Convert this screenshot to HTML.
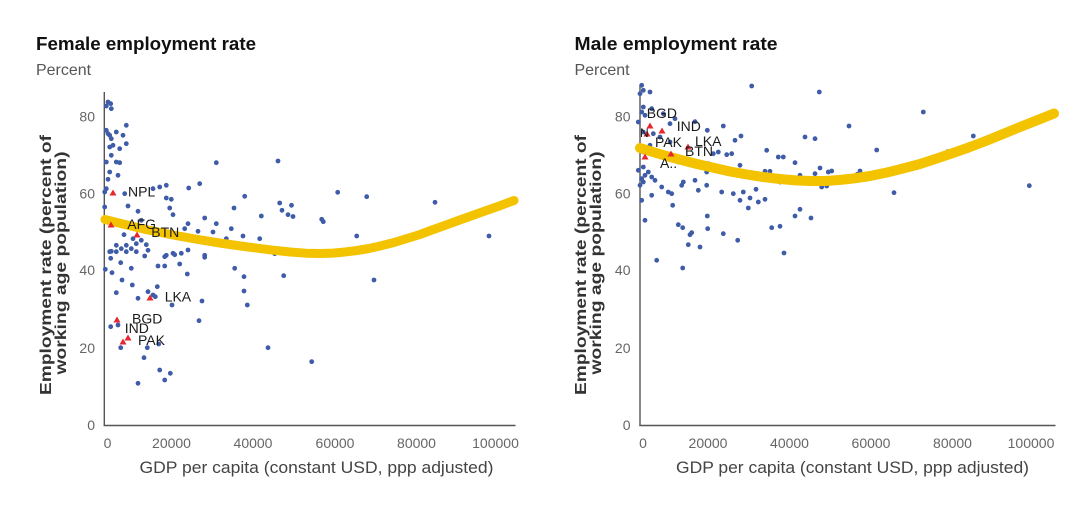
<!DOCTYPE html>
<html>
<head>
<meta charset="utf-8">
<style>
  html, body { margin:0; padding:0; background:#ffffff; }
  svg { display:block; }
  text { font-family: "Liberation Sans", "DejaVu Sans", sans-serif; }
</style>
</head>
<body>
<svg width="1080" height="526" viewBox="0 0 1080 526" xmlns="http://www.w3.org/2000/svg">
  <rect x="0" y="0" width="1080" height="526" fill="#ffffff"/>

  <!-- ================= LEFT CHART ================= -->
  <text x="36" y="50" font-size="18" font-weight="bold" fill="#111" textLength="220" lengthAdjust="spacingAndGlyphs">Female employment rate</text>
  <text x="36" y="75" font-size="16" fill="#555" textLength="55" lengthAdjust="spacingAndGlyphs">Percent</text>

  <!-- y axis title -->
  <text transform="translate(51,265) rotate(-90)" text-anchor="middle" font-size="16" font-weight="bold" fill="#333" textLength="260" lengthAdjust="spacingAndGlyphs">Employment rate (percent of</text>
  <text transform="translate(66,263) rotate(-90)" text-anchor="middle" font-size="16" font-weight="bold" fill="#333" textLength="223" lengthAdjust="spacingAndGlyphs">working age population)</text>

  <!-- y ticks -->
  <g font-size="14" fill="#666" text-anchor="end">
    <text x="95" y="121.7">80</text>
    <text x="95" y="198.3">60</text>
    <text x="95" y="275">40</text>
    <text x="95" y="353">20</text>
    <text x="95" y="430">0</text>
  </g>
  <!-- x ticks -->
  <g font-size="14" fill="#666" text-anchor="middle">
    <text x="107.5" y="448">0</text>
    <text x="171.5" y="448">20000</text>
    <text x="253" y="448">40000</text>
    <text x="335" y="448">60000</text>
    <text x="416.5" y="448">80000</text>
    <text x="495.5" y="448">100000</text>
  </g>
  <text x="139.5" y="473" font-size="17" fill="#444" textLength="354" lengthAdjust="spacingAndGlyphs">GDP per capita (constant USD, ppp adjusted)</text>

  <!-- axes -->
  <line x1="104.3" y1="92" x2="104.3" y2="425.5" stroke="#555" stroke-width="1.4"/>
  <line x1="103.6" y1="425.5" x2="515.5" y2="425.5" stroke="#555" stroke-width="1.4"/>

  <!-- dots -->
  <g fill="#3f5ca8">
    <circle cx="108" cy="102" r="2.4"/><circle cx="110.7" cy="103.7" r="2.4"/><circle cx="106.3" cy="106" r="2.4"/><circle cx="111.3" cy="108.7" r="2.4"/><circle cx="126.3" cy="125.3" r="2.4"/>
    <circle cx="106.3" cy="130.3" r="2.4"/><circle cx="108" cy="133.7" r="2.4"/><circle cx="109.7" cy="135.3" r="2.4"/><circle cx="116.3" cy="132" r="2.4"/><circle cx="111.3" cy="138.7" r="2.4"/><circle cx="123" cy="135.3" r="2.4"/><circle cx="113" cy="145.3" r="2.4"/><circle cx="126.3" cy="143.7" r="2.4"/><circle cx="119.7" cy="148.7" r="2.4"/><circle cx="109.7" cy="147" r="2.4"/>
    <circle cx="111.3" cy="155.3" r="2.4"/><circle cx="106.3" cy="162" r="2.4"/><circle cx="116.3" cy="162" r="2.4"/><circle cx="119.7" cy="162.7" r="2.4"/><circle cx="216.3" cy="162.7" r="2.4"/><circle cx="278" cy="161" r="2.4"/>
    <circle cx="118" cy="175.3" r="2.4"/><circle cx="109.7" cy="172" r="2.4"/><circle cx="108" cy="179.3" r="2.4"/><circle cx="106.3" cy="188.7" r="2.4"/>
    <circle cx="199.7" cy="183.7" r="2.4"/><circle cx="188.7" cy="188" r="2.4"/><circle cx="159.7" cy="187" r="2.4"/><circle cx="166.3" cy="185.3" r="2.4"/><circle cx="153" cy="188.7" r="2.4"/>
    <circle cx="124.7" cy="193.7" r="2.4"/><circle cx="104.7" cy="192" r="2.4"/><circle cx="244.7" cy="196.3" r="2.4"/>
    <circle cx="166.3" cy="198" r="2.4"/><circle cx="171.3" cy="199.3" r="2.4"/><circle cx="128" cy="206" r="2.4"/><circle cx="104.7" cy="207" r="2.4"/><circle cx="169.7" cy="208" r="2.4"/>
    <circle cx="279.7" cy="203" r="2.4"/><circle cx="291.5" cy="205.3" r="2.4"/><circle cx="282" cy="210.3" r="2.4"/><circle cx="288" cy="214.7" r="2.4"/><circle cx="293" cy="216.5" r="2.4"/>
    <circle cx="234" cy="208" r="2.4"/><circle cx="138" cy="211.3" r="2.4"/><circle cx="173" cy="214.7" r="2.4"/><circle cx="204.7" cy="218" r="2.4"/><circle cx="261.3" cy="216" r="2.4"/>
    <circle cx="188" cy="223.7" r="2.4"/><circle cx="141.3" cy="220.3" r="2.4"/><circle cx="216.3" cy="223.7" r="2.4"/><circle cx="231.3" cy="228.7" r="2.4"/><circle cx="213" cy="232" r="2.4"/><circle cx="198" cy="231.3" r="2.4"/><circle cx="184.7" cy="228.7" r="2.4"/><circle cx="243" cy="236" r="2.4"/><circle cx="259.7" cy="238.7" r="2.4"/><circle cx="226.3" cy="238.7" r="2.4"/><circle cx="204.7" cy="238.7" r="2.4"/><circle cx="213" cy="242" r="2.4"/><circle cx="223" cy="243.7" r="2.4"/><circle cx="194.7" cy="240.3" r="2.4"/>
    <circle cx="124" cy="234.7" r="2.4"/><circle cx="133" cy="238.7" r="2.4"/><circle cx="141.3" cy="240.3" r="2.4"/><circle cx="146.3" cy="244.7" r="2.4"/><circle cx="136.3" cy="243.7" r="2.4"/><circle cx="126.3" cy="245.3" r="2.4"/><circle cx="116.3" cy="245.3" r="2.4"/><circle cx="121.3" cy="248.7" r="2.4"/><circle cx="111.3" cy="251.3" r="2.4"/><circle cx="131.3" cy="248.7" r="2.4"/><circle cx="148" cy="250.3" r="2.4"/><circle cx="166.3" cy="255.3" r="2.4"/><circle cx="174.7" cy="254.7" r="2.4"/><circle cx="258" cy="247" r="2.4"/><circle cx="204.7" cy="255.3" r="2.4"/><circle cx="274.7" cy="253.7" r="2.4"/>
    <circle cx="109.7" cy="251.7" r="2.4"/><circle cx="116.3" cy="251.7" r="2.4"/><circle cx="126.3" cy="251.7" r="2.4"/><circle cx="136.3" cy="251.7" r="2.4"/><circle cx="144.7" cy="256" r="2.4"/><circle cx="164.7" cy="256.7" r="2.4"/><circle cx="173" cy="253.3" r="2.4"/><circle cx="181.3" cy="253.3" r="2.4"/><circle cx="188" cy="250" r="2.4"/>
    <circle cx="204.7" cy="257.3" r="2.4"/><circle cx="110.7" cy="258.3" r="2.4"/><circle cx="120.7" cy="262.7" r="2.4"/><circle cx="131.3" cy="268.3" r="2.4"/><circle cx="158" cy="266" r="2.4"/><circle cx="164.7" cy="266" r="2.4"/><circle cx="179.7" cy="264" r="2.4"/>
    <circle cx="105.3" cy="269.3" r="2.4"/><circle cx="112" cy="272.7" r="2.4"/><circle cx="122" cy="280" r="2.4"/><circle cx="187.3" cy="274" r="2.4"/><circle cx="234.7" cy="268.3" r="2.4"/><circle cx="244" cy="276.7" r="2.4"/><circle cx="283.7" cy="275.7" r="2.4"/>
    <circle cx="132.3" cy="285" r="2.4"/><circle cx="157.3" cy="286.7" r="2.4"/><circle cx="116.3" cy="292.7" r="2.4"/><circle cx="148" cy="291.7" r="2.4"/><circle cx="153" cy="295" r="2.4"/><circle cx="138" cy="298.3" r="2.4"/><circle cx="155.3" cy="296.7" r="2.4"/>
    <circle cx="244" cy="291" r="2.4"/><circle cx="202" cy="301" r="2.4"/><circle cx="172" cy="305" r="2.4"/><circle cx="247.3" cy="305" r="2.4"/>
    <circle cx="110.7" cy="326.7" r="2.4"/><circle cx="118" cy="325" r="2.4"/><circle cx="199" cy="320.7" r="2.4"/>
    <circle cx="120.7" cy="347.7" r="2.4"/><circle cx="147.3" cy="347.7" r="2.4"/><circle cx="158.7" cy="344" r="2.4"/><circle cx="268" cy="347.7" r="2.4"/>
    <circle cx="144" cy="357.7" r="2.4"/><circle cx="159.7" cy="370" r="2.4"/><circle cx="170.3" cy="373.3" r="2.4"/><circle cx="164.7" cy="380" r="2.4"/><circle cx="138" cy="383.3" r="2.4"/>
    <circle cx="337.7" cy="192.3" r="2.4"/><circle cx="366.7" cy="196.7" r="2.4"/><circle cx="435" cy="202.3" r="2.4"/><circle cx="321.7" cy="219.3" r="2.4"/><circle cx="323.3" cy="221.7" r="2.4"/><circle cx="356.7" cy="236" r="2.4"/><circle cx="489" cy="236" r="2.4"/><circle cx="374" cy="280" r="2.4"/><circle cx="383.3" cy="243.5" r="2.4"/><circle cx="311.7" cy="361.7" r="2.4"/>
  </g>

  <!-- fit curve -->
  <polyline fill="none" stroke="#F3C300" stroke-width="9" stroke-linecap="round" stroke-linejoin="round"
    points="105,219.5 127,225 148,230 173,235 198,239.5 223,243.5 248,247 270,249.8 290,252 306,253.2 320,253.5 333,253.1 345,252 357,250.5 369,248.5 380,246 394,242.5 407,238.5 420,234.5 432,230 445,225.4 457,221 471,216 485,211 500,205.7 514,200.5"/>

  <!-- highlighted triangles -->
  <g fill="#e8262f">
    <path d="M109.5,195.5 L116.5,195.5 L113,189.5 Z"/>
    <path d="M107.5,227.5 L114.5,227.5 L111,221.5 Z"/>
    <path d="M133.5,237.5 L140.5,237.5 L137,231.5 Z"/>
    <path d="M146.5,300.5 L153.5,300.5 L150,294.5 Z"/>
    <path d="M113.5,322.5 L120.5,322.5 L117,316.5 Z"/>
    <path d="M124.5,340.5 L131.5,340.5 L128,334.5 Z"/>
    <path d="M119.5,344.5 L126.5,344.5 L123,338.5 Z"/>
  </g>
  <g font-size="14" fill="#1a1a1a">
    <text x="128" y="196.7">NPL</text>
    <text x="127.3" y="229">AFG</text>
    <text x="151.3" y="237">BTN</text>
    <text x="164.7" y="301.7">LKA</text>
    <text x="132" y="323.3">BGD</text>
    <text x="124.7" y="333">IND</text>
    <text x="138" y="345">PAK</text>
  </g>

  <!-- ================= RIGHT CHART ================= -->
  <text x="574.5" y="50" font-size="18" font-weight="bold" fill="#111" textLength="203" lengthAdjust="spacingAndGlyphs">Male employment rate</text>
  <text x="574.5" y="75" font-size="16" fill="#555" textLength="55" lengthAdjust="spacingAndGlyphs">Percent</text>

  <text transform="translate(586,265) rotate(-90)" text-anchor="middle" font-size="16" font-weight="bold" fill="#333" textLength="260" lengthAdjust="spacingAndGlyphs">Employment rate (percent of</text>
  <text transform="translate(601,263) rotate(-90)" text-anchor="middle" font-size="16" font-weight="bold" fill="#333" textLength="223" lengthAdjust="spacingAndGlyphs">working age population)</text>

  <g font-size="14" fill="#666" text-anchor="end">
    <text x="630.5" y="121.7">80</text>
    <text x="630.5" y="198.3">60</text>
    <text x="630.5" y="275">40</text>
    <text x="630.5" y="353">20</text>
    <text x="630.5" y="430">0</text>
  </g>
  <g font-size="14" fill="#666" text-anchor="middle">
    <text x="643" y="448">0</text>
    <text x="708" y="448">20000</text>
    <text x="789.5" y="448">40000</text>
    <text x="871" y="448">60000</text>
    <text x="952.5" y="448">80000</text>
    <text x="1031" y="448">100000</text>
  </g>
  <text x="676" y="473" font-size="17" fill="#444" textLength="353" lengthAdjust="spacingAndGlyphs">GDP per capita (constant USD, ppp adjusted)</text>

  <line x1="640" y1="85" x2="640" y2="425.5" stroke="#555" stroke-width="1.4"/>
  <line x1="639.3" y1="425.5" x2="1055.5" y2="425.5" stroke="#555" stroke-width="1.4"/>

  <g fill="#3f5ca8">
    <circle cx="641.7" cy="85.3" r="2.4"/><circle cx="643.3" cy="90.3" r="2.4"/><circle cx="640" cy="93.7" r="2.4"/><circle cx="650" cy="92" r="2.4"/><circle cx="751.7" cy="86" r="2.4"/><circle cx="819.3" cy="92" r="2.4"/>
    <circle cx="643.3" cy="107" r="2.4"/><circle cx="641.7" cy="112" r="2.4"/><circle cx="645" cy="115.3" r="2.4"/><circle cx="638.3" cy="122" r="2.4"/><circle cx="651.7" cy="108.7" r="2.4"/>
    <circle cx="663.3" cy="113.7" r="2.4"/><circle cx="670" cy="123.7" r="2.4"/><circle cx="675" cy="118.7" r="2.4"/><circle cx="723.3" cy="126" r="2.4"/><circle cx="707.3" cy="130.3" r="2.4"/><circle cx="695" cy="121.7" r="2.4"/>
    <circle cx="643.3" cy="132" r="2.4"/><circle cx="653.3" cy="133.7" r="2.4"/><circle cx="660" cy="137" r="2.4"/>
    <circle cx="735" cy="140.3" r="2.4"/><circle cx="741" cy="136" r="2.4"/><circle cx="805" cy="137" r="2.4"/><circle cx="815" cy="138.7" r="2.4"/>
    <circle cx="650" cy="145.3" r="2.4"/><circle cx="643.3" cy="152" r="2.4"/><circle cx="670" cy="142" r="2.4"/>
    <circle cx="766.7" cy="150.3" r="2.4"/><circle cx="718.3" cy="152" r="2.4"/><circle cx="713.3" cy="153.7" r="2.4"/><circle cx="726.7" cy="154.7" r="2.4"/><circle cx="731.7" cy="153.7" r="2.4"/>
    <circle cx="778.3" cy="157" r="2.4"/><circle cx="783.3" cy="157" r="2.4"/><circle cx="795" cy="162.7" r="2.4"/><circle cx="740" cy="165.3" r="2.4"/><circle cx="708.3" cy="163.7" r="2.4"/><circle cx="678.3" cy="162" r="2.4"/><circle cx="820" cy="168" r="2.4"/>
    <circle cx="643.3" cy="167" r="2.4"/><circle cx="638.3" cy="170.3" r="2.4"/><circle cx="648.3" cy="172" r="2.4"/><circle cx="645" cy="175.3" r="2.4"/><circle cx="651.7" cy="177" r="2.4"/><circle cx="655" cy="180.3" r="2.4"/><circle cx="641.7" cy="178.7" r="2.4"/>
    <circle cx="706.7" cy="172" r="2.4"/><circle cx="751.7" cy="172.7" r="2.4"/><circle cx="765" cy="171.3" r="2.4"/><circle cx="770" cy="171.3" r="2.4"/><circle cx="800" cy="175.3" r="2.4"/><circle cx="815" cy="173.7" r="2.4"/><circle cx="828.3" cy="172" r="2.4"/>
    <circle cx="640" cy="185.3" r="2.4"/><circle cx="643.3" cy="182" r="2.4"/><circle cx="661.7" cy="187" r="2.4"/><circle cx="683.3" cy="182" r="2.4"/><circle cx="681.7" cy="185.3" r="2.4"/><circle cx="695" cy="180.3" r="2.4"/><circle cx="706.7" cy="185.3" r="2.4"/><circle cx="698.3" cy="190.3" r="2.4"/><circle cx="780" cy="182" r="2.4"/>
    <circle cx="821.7" cy="187" r="2.4"/><circle cx="826.7" cy="186" r="2.4"/>
    <circle cx="668.3" cy="192" r="2.4"/><circle cx="671.7" cy="193.7" r="2.4"/><circle cx="651.7" cy="195.3" r="2.4"/><circle cx="721.7" cy="192" r="2.4"/><circle cx="733.3" cy="193.7" r="2.4"/><circle cx="743.3" cy="192" r="2.4"/><circle cx="756" cy="189.3" r="2.4"/>
    <circle cx="641.7" cy="200.3" r="2.4"/><circle cx="740" cy="200.3" r="2.4"/><circle cx="750" cy="198" r="2.4"/><circle cx="758.3" cy="202" r="2.4"/><circle cx="765" cy="199.3" r="2.4"/><circle cx="748.3" cy="208" r="2.4"/><circle cx="672.7" cy="205.3" r="2.4"/>
    <circle cx="645" cy="220.3" r="2.4"/><circle cx="707.3" cy="216" r="2.4"/><circle cx="800" cy="209.3" r="2.4"/><circle cx="795" cy="216" r="2.4"/><circle cx="811" cy="218" r="2.4"/>
    <circle cx="678.3" cy="224.7" r="2.4"/><circle cx="682.7" cy="227.7" r="2.4"/><circle cx="707.7" cy="228.7" r="2.4"/><circle cx="691.7" cy="232.7" r="2.4"/><circle cx="690" cy="234.7" r="2.4"/><circle cx="771.7" cy="227.7" r="2.4"/><circle cx="780" cy="226.3" r="2.4"/>
    <circle cx="723.3" cy="233.7" r="2.4"/><circle cx="737.7" cy="240.3" r="2.4"/><circle cx="688.3" cy="244.7" r="2.4"/><circle cx="700" cy="247" r="2.4"/><circle cx="784" cy="253" r="2.4"/><circle cx="656.7" cy="260.3" r="2.4"/><circle cx="682.7" cy="268" r="2.4"/>
    <circle cx="923.3" cy="112" r="2.4"/><circle cx="849" cy="126" r="2.4"/><circle cx="973.3" cy="136" r="2.4"/><circle cx="876.7" cy="150" r="2.4"/><circle cx="947.7" cy="151.7" r="2.4"/><circle cx="831.7" cy="171" r="2.4"/><circle cx="860" cy="171" r="2.4"/><circle cx="857.3" cy="174.3" r="2.4"/><circle cx="894" cy="192.7" r="2.4"/><circle cx="1029.3" cy="185.7" r="2.4"/>
  </g>

  <polyline fill="none" stroke="#F3C300" stroke-width="10" stroke-linecap="round" stroke-linejoin="round"
    points="640,148 655,152.6 670,157 684,160.7 697,164 714,167.9 730,171.5 747,174.5 763,177 780,179 797,180.5 811,181 825,181 839,180 853,178.5 870,176 887,172.5 903,168.5 920,164 936,158.8 953,153 970,147 987,140.5 1003,134 1020,127 1037,120.3 1054,113.5"/>

  <g fill="#e8262f">
    <path d="M646.5,128.5 L653.5,128.5 L650,122.5 Z"/>
    <path d="M658.5,133.5 L665.5,133.5 L662,127.5 Z"/>
    <path d="M684.5,149.5 L691.5,149.5 L688,143.5 Z"/>
    <path d="M667.5,156.5 L674.5,156.5 L671,150.5 Z"/>
    <path d="M641.5,159.5 L648.5,159.5 L645,153.5 Z"/>
    <path d="M643.5,136.5 L650.5,136.5 L647,130.5 Z"/>
  </g>
  <g font-size="14" fill="#1a1a1a">
    <text x="646.7" y="117.8">BGD</text>
    <text x="676.7" y="131">IND</text>
    <text x="695" y="146">LKA</text>
    <text x="655" y="147">PAK</text>
    <text x="685" y="156">BTN</text>
    <text x="660" y="168">A..</text>
    <text x="640" y="137" font-size="12">N</text>
  </g>
</svg>
</body>
</html>
